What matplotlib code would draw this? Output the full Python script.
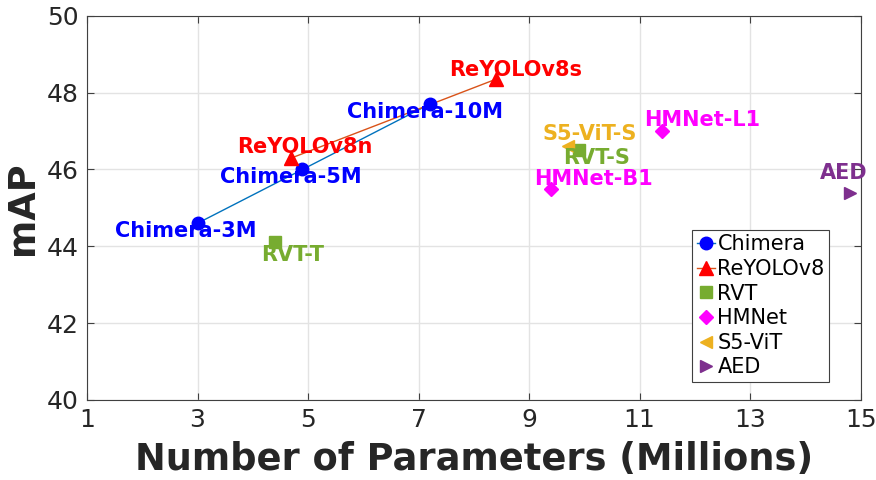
import matplotlib
matplotlib.use("Agg")
import matplotlib.pyplot as plt

# Data (params in millions, mAP)
chimera_x = [3.0, 4.9, 7.2]
chimera_y = [44.6, 46.0, 47.7]
chimera_names = ["Chimera-3M", "Chimera-5M", "Chimera-10M"]

reyolo_x = [4.7, 8.4]
reyolo_y = [46.3, 48.35]
reyolo_names = ["ReYOLOv8n", "ReYOLOv8s"]

rvt_x = [4.4, 9.9]
rvt_y = [44.1, 46.5]
rvt_names = ["RVT-T", "RVT-S"]

hmnet_x = [9.4, 11.4]
hmnet_y = [45.5, 47.0]
hmnet_names = ["HMNet-B1", "HMNet-L1"]

s5_x = [9.7]
s5_y = [46.6]
s5_names = ["S5-ViT-S"]

aed_x = [14.8]
aed_y = [45.4]
aed_names = ["AED"]

# label centres (data coords)
label_pos = {
    "Chimera-3M": (2.78, 44.4),
    "Chimera-5M": (4.68, 45.81),
    "Chimera-10M": (7.12, 47.5),
    "ReYOLOv8n": (4.95, 46.59),
    "ReYOLOv8s": (8.75, 48.59),
    "RVT-T": (4.73, 43.78),
    "RVT-S": (10.22, 46.3),
    "S5-ViT-S": (10.09, 46.92),
    "HMNet-B1": (10.17, 45.76),
    "HMNet-L1": (12.14, 47.29),
    "AED": (14.7, 45.9),
}

fig = plt.figure(figsize=(8.76, 4.8), dpi=100)
ax = fig.add_axes([0.0993, 0.1667, 0.8831, 0.8003])

c_blue = "#0000FF"
c_red = "#FF0000"
c_green = "#77AC30"
c_mag = "#FF00FF"
c_orange = "#EDB120"
c_purple = "#7E2F8E"

series = [
    (chimera_x, chimera_y, chimera_names, "Chimera", "o", c_blue, "#0072BD", 9),
    (reyolo_x, reyolo_y, reyolo_names, "ReYOLOv8", "^", c_red, "#D95319", 10),
    (rvt_x, rvt_y, rvt_names, "RVT", "s", c_green, None, 8),
    (hmnet_x, hmnet_y, hmnet_names, "HMNet", "D", c_mag, None, 7),
    (s5_x, s5_y, s5_names, "S5-ViT", "<", c_orange, None, 9),
    (aed_x, aed_y, aed_names, "AED", ">", c_purple, None, 9),
]

for xs, ys, names, lab, mk, col, lcol, ms in series:
    if lcol is not None:
        ax.plot(xs, ys, color=lcol, lw=1.0, zorder=2)
        ax.plot([], [], color=lcol, lw=1.0, marker=mk, markersize=ms,
                markerfacecolor=col, markeredgecolor=col, label=lab)
        ax.plot(xs, ys, ls="none", marker=mk, markersize=ms, color=col, zorder=3)
    else:
        ax.plot(xs, ys, ls="none", marker=mk, markersize=ms, color=col,
                label=lab, zorder=3)
    for n in names:
        tx, ty = label_pos[n]
        ax.text(tx, ty, n, color=col, fontsize=15, fontweight="bold",
                ha="center", va="center", zorder=4, clip_on=False)

ax.set_xlim(1, 15)
ax.set_ylim(40, 50)
ax.set_xticks(range(1, 16, 2))
ax.set_yticks(range(40, 51, 2))
ax.tick_params(labelsize=18, colors="#404040", labelcolor="#262626",
               direction="in", length=5, width=0.8, pad=6,
               top=True, right=True)
ax.grid(True, color="#E3E3E3", lw=1.0)
ax.set_axisbelow(True)
for sp in ax.spines.values():
    sp.set_color("#404040")
    sp.set_linewidth(0.8)

ax.set_xlabel("Number of Parameters (Millions)", fontsize=26.5,
              fontweight="bold", color="#262626", labelpad=6)
ax.set_ylabel("mAP", fontsize=26.5, fontweight="bold", color="#262626",
              labelpad=4)

leg = ax.legend(loc="lower right", bbox_to_anchor=(0.959, 0.048),
                fontsize=15, handlelength=0.9, handletextpad=0.1,
                borderpad=0.2, labelspacing=0.22, fancybox=False,
                framealpha=1, edgecolor="#404040", borderaxespad=0)
leg.get_frame().set_linewidth(0.8)

fig.savefig("out.png", dpi=100)
